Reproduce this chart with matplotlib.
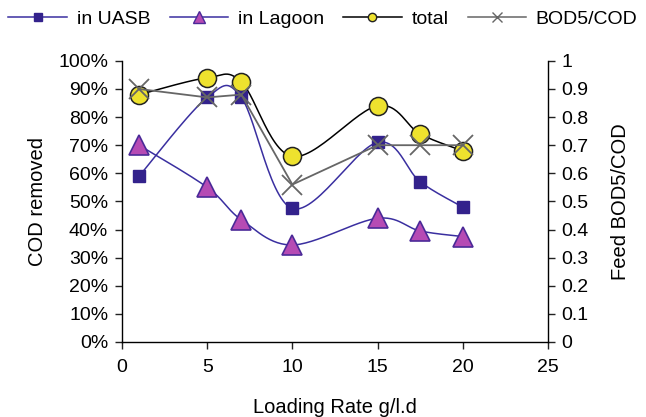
import numpy as np
import matplotlib
matplotlib.use("Agg")
import matplotlib.pyplot as plt
from matplotlib.lines import Line2D

plt.rcParams["font.family"] = ["Liberation Sans", "DejaVu Sans"]

# Loading rate (g/l.d) and COD removal (%)
loading = [1, 5, 7, 10, 15, 17.5, 20]
uasb = [59, 87, 87, 47.5, 71, 57, 48]
lagoon = [70, 55, 43.5, 34.5, 44, 39.5, 37.5]
total = [88, 94, 92.5, 66, 84, 74, 68]
# Feed BOD5/COD ratio (right axis)
bod_cod = [0.90, 0.87, 0.88, 0.56, 0.70, 0.70, 0.70]

X_MAX, Y_MAX = 25, 100


def smooth(xs, ys, sx, sy, n=30):
    """Parametric Catmull-Rom curve through the points, computed in scaled units."""
    p = np.column_stack([np.asarray(xs, float) * sx, np.asarray(ys, float) * sy])
    p = np.vstack([p[0], p, p[-1]])
    out = []
    for i in range(1, len(p) - 2):
        p0, p1, p2, p3 = p[i - 1], p[i], p[i + 1], p[i + 2]
        t = np.linspace(0, 1, n)[:, None]
        c = 0.5 * ((2 * p1) + (-p0 + p2) * t + (2 * p0 - 5 * p1 + 4 * p2 - p3) * t ** 2
                   + (-p0 + 3 * p1 - 3 * p2 + p3) * t ** 3)
        out.append(c if i == 1 else c[1:])
    c = np.vstack(out)
    return c[:, 0] / sx, c[:, 1] / sy


fig = plt.figure(figsize=(6.46, 4.17), dpi=100)
ax = fig.add_axes([0.189, 0.180, 0.659, 0.674])
ax2 = ax.twinx()

# scale factors roughly proportional to the on-screen size of the axes
sx, sy = 426 / X_MAX, 281 / Y_MAX

navy = "#33228c"
line_blue = "#3a2fa0"

cx, cy = smooth(loading, total, sx, sy)
ax.plot(cx, cy, color="black", lw=1.1, zorder=2)
cx, cy = smooth(loading, uasb, sx, sy)
ax.plot(cx, cy, color=line_blue, lw=1.1, zorder=2)
cx, cy = smooth(loading, lagoon, sx, sy)
ax.plot(cx, cy, color=line_blue, lw=1.1, zorder=2)

ax.plot(loading, lagoon, ls="none", marker="^", ms=15, mfc="#b64bb4", mec="#4b2a98", mew=1.2, zorder=4)
ax.plot(loading, total, ls="none", marker="o", ms=13, mfc="#eee22e", mec="#222222", mew=1.1, zorder=3)
ax.plot(loading, uasb, ls="none", marker="s", ms=8.5, mfc=navy, mec=navy, zorder=5)

ax2.plot(loading, bod_cod, color="#666666", lw=1.3, marker="x", ms=14, mew=1.3, zorder=6)

ax.set_xlim(0, X_MAX)
ax.set_ylim(0, Y_MAX)
ax2.set_ylim(0, 1)
ax.set_xticks(np.arange(0, 26, 5))
ax.set_yticks(np.arange(0, 101, 10))
ax.set_yticklabels([f"{v}%" for v in range(0, 101, 10)])
ax2.set_yticks(np.arange(0, 1.01, 0.1))
ax2.set_yticklabels(["0"] + [f"{v / 10:g}" for v in range(1, 10)] + ["1"])

for a in (ax, ax2):
    a.spines["top"].set_visible(False)
    a.tick_params(labelsize=14, length=5, width=1, color="#222222", pad=5)
    for s in a.spines.values():
        s.set_linewidth(1)
ax.tick_params(axis="x", pad=7)
ax.spines["right"].set_visible(False)
ax2.spines["left"].set_visible(False)
ax2.spines["bottom"].set_visible(False)

ax.set_xlabel("Loading Rate g/l.d", fontsize=14.5, labelpad=16)
ax.set_ylabel("COD removed", fontsize=14.5, labelpad=8)
ax2.set_ylabel("Feed BOD5/COD", fontsize=14.5, labelpad=16)

handles = [
    Line2D([], [], color=line_blue, marker="s", ms=6, mfc=navy, mec=navy, lw=1.1),
    Line2D([], [], color=line_blue, marker="^", ms=8, mfc="#b64bb4", mec="#4b2a98", lw=1.1),
    Line2D([], [], color="black", marker="o", ms=6, mfc="#eee22e", mec="#222222", lw=1.1),
    Line2D([], [], color="#666666", marker="x", ms=7, mew=1, lw=1.1),
]
fig.legend(handles, ["in UASB", "in Lagoon", "total", "BOD5/COD"], loc="center",
           bbox_to_anchor=(0.5, 0.955), ncol=4, frameon=False, fontsize=14,
           handlelength=3, handletextpad=0.5, columnspacing=1.0)

fig.savefig("out.png", dpi=100)
